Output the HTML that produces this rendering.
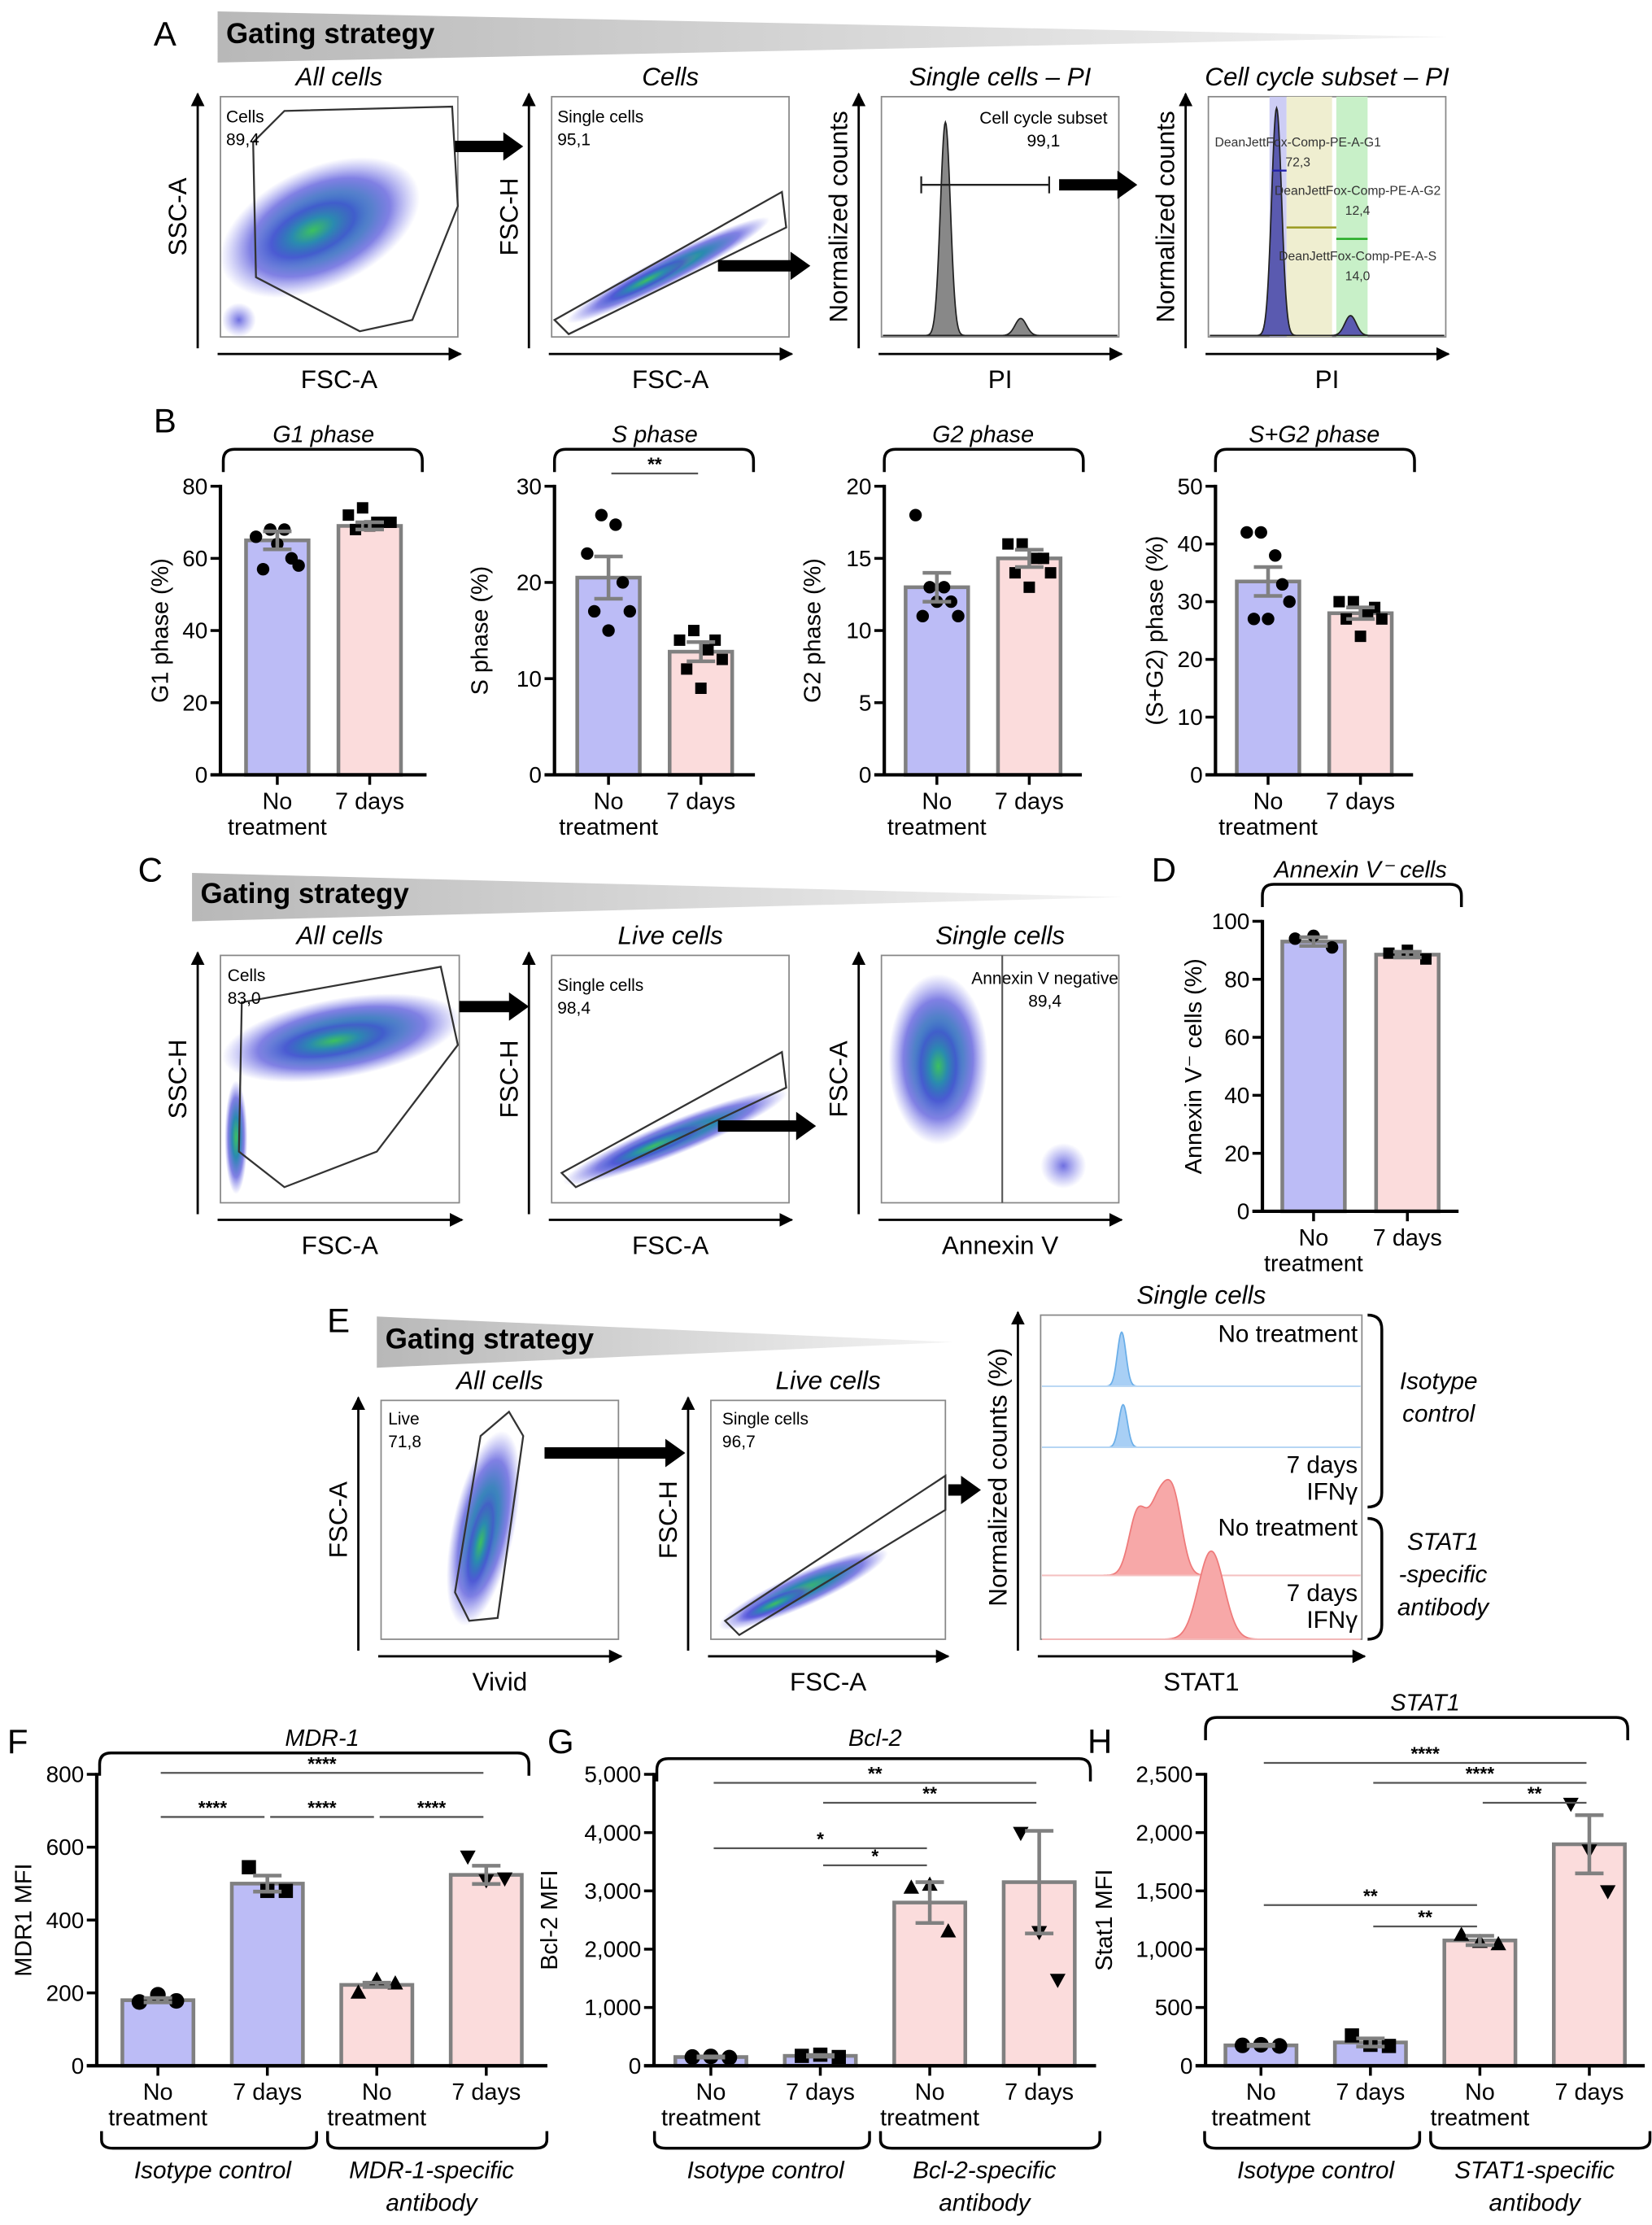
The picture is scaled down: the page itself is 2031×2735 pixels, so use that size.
<!DOCTYPE html>
<html><head><meta charset="utf-8"><style>
html,body{margin:0;padding:0;background:#fff}
svg{display:block;font-family:"Liberation Sans",sans-serif}
</style></head><body>
<svg id="fig" width="2031" height="2735" viewBox="0 0 1162 1565" xmlns="http://www.w3.org/2000/svg">
<defs>
<linearGradient id="ban" x1="0" x2="1" y1="0" y2="0"><stop offset="0" stop-color="#b8b8b8"/><stop offset="1" stop-color="#f4f4f4"/></linearGradient>
<radialGradient id="cloud"><stop offset="0" stop-color="#3cc060"/><stop offset="0.35" stop-color="#2a8ab0"/><stop offset="0.7" stop-color="#4a4ad8" stop-opacity="0.7"/><stop offset="1" stop-color="#6a6ae8" stop-opacity="0"/></radialGradient>
<radialGradient id="cloudB"><stop offset="0" stop-color="#4a4ad8" stop-opacity="0.8"/><stop offset="1" stop-color="#6a6ae8" stop-opacity="0"/></radialGradient>
<marker id="ah" viewBox="0 0 10 10" refX="9" refY="5" markerWidth="6" markerHeight="6" orient="auto"><path d="M0,0L10,5L0,10z" fill="#000"/></marker>
</defs>
</svg>
<script>
const NS='http://www.w3.org/2000/svg';
const svg=document.getElementById('fig');
function mk(tag,a,p){const e=document.createElementNS(NS,tag);for(const k in a)e.setAttribute(k,a[k]);(p||svg).appendChild(e);return e;}
function txt(s,x,y,a,p){const t=mk('text',Object.assign({x:x,y:y},a||{}),p);t.textContent=s;return t;}

/* ---------- DATA ---------- */
const cats2=['No treatment','7 days'];
const cats4=['No treatment','7 days','No treatment','7 days'];
const g1Means=[65,69], g1Sem=[2.5,1], g1Pts=[[66,68,68,58,57,64,60],[72,74,70,70,68,69,70]];
const sMeans=[20.5,12.8], sSem=[2.2,1], sPts=[[23,27,26,17,17,15,20],[14,15,13,12,11,9,14]];
const g2Means=[13,15], g2Sem=[1,0.6], g2Pts=[[18,13,13,11,11,12,12],[16,16,15,14,14,13,15]];
const sg2Means=[33.5,28], sg2Sem=[2.5,1], sg2Pts=[[42,42,38,30,27,27,33],[30,30,28,27,27,24,29]];
const annMeans=[93,88.5], annSem=[1.5,1], annPts=[[94,95,91],[89,90,87]];
const mdrMeans=[180,500,222,524], mdrSem=[6,22,6,25], mdrPts=[[175,195,178],[545,480,480],[200,235,225],[575,510,515]];
const bclMeans=[150,170,2800,3150], bclSem=[10,15,350,880], bclPts=[[150,160,140],[170,190,150],[3050,3100,2300],[4000,2300,1480]];
const statMeans=[175,200,1075,1900], statSem=[6,35,40,250], statPts=[[175,180,170],[260,180,170],[1120,1060,1040],[2250,1850,1500]];
const ticksB1=[0,20,40,60,80], ticksB2=[0,10,20,30], ticksB3=[0,5,10,15,20], ticksB4=[0,10,20,30,40,50], ticksD=[0,20,40,60,80,100];
const ticksF=[0,200,400,600,800], ticksG=[0,1000,2000,3000,4000,5000], ticksH=[0,500,1000,1500,2000,2500];
const tickLabG=['0','1,000','2,000','3,000','4,000','5,000'], tickLabH=['0','500','1,000','1,500','2,000','2,500'];
const sigS=[[0,1,'**']];
const sigF=[[0,3,'****'],[0,1,'****'],[1,2,'****'],[2,3,'****']];
const sigG=[[0,3,'**'],[1,3,'**'],[0,2,'*'],[1,2,'*']];
const sigH=[[0,3,'****'],[1,3,'****'],[2,3,'**'],[0,2,'**'],[1,2,'**']];

const BLUE='#bcbcf6', PINK='#fbdcdc';

function marker(shape,x,y,g,s){
  let m;
  if(shape==='c') m=mk('circle',{cx:x,cy:y,r:s*0.55,fill:'#000'},g);
  else if(shape==='s') m=mk('rect',{x:x-s*0.5,y:y-s*0.5,width:s,height:s,fill:'#000'},g);
  else if(shape==='u') m=mk('path',{d:`M${x},${y-s*0.6}L${x+s*0.55},${y+s*0.4}L${x-s*0.55},${y+s*0.4}Z`,fill:'#000'},g);
  else m=mk('path',{d:`M${x},${y+s*0.6}L${x+s*0.55},${y-s*0.4}L${x-s*0.55},${y-s*0.4}Z`,fill:'#000'},g);
  
  
}

function barChart(c){
  const g=mk('g',{});
  
  
  const max=c.ticks[c.ticks.length-1];
  const ys=v=>c.yBot-(v/max)*(c.yBot-c.yTop);
  const n=c.means.length;
  const cx=i=>c.ax+c.pad+c.step*i;
  for(let i=0;i<n;i++){
    const b=mk('rect',{x:cx(i)-c.bw/2,y:ys(c.means[i]),width:c.bw,height:c.yBot-ys(c.means[i]),fill:c.colors[i],stroke:'#808080','stroke-width':2.6},g);
    
    
  }
  for(let i=0;i<n;i++){
    const pts=c.pts[i];
    for(let j=0;j<pts.length;j++){
      const off=pts.length===3?[-13,0,13][j]:[-15,-5,5,15,-10,0,10][j];
      marker(c.shapes[i],cx(i)+off,ys(pts[j]),g,c.ms);
    }
  }
  for(let i=0;i<n;i++){
    const x=cx(i),y1=ys(c.means[i]+c.sem[i]),y2=ys(Math.max(0,c.means[i]-c.sem[i]));
    const e=mk('path',{d:`M${x},${y1}L${x},${y2}M${x-10},${y1}L${x+10},${y1}M${x-10},${y2}L${x+10},${y2}`,stroke:'#808080','stroke-width':2.6,fill:'none'},g);
    
    
  }
  mk('line',{x1:c.ax,y1:c.yTop-1,x2:c.ax,y2:c.yBot,stroke:'#000','stroke-width':2.4},g);
  const xe=cx(n-1)+c.pad;
  mk('line',{x1:c.ax-7,y1:c.yBot,x2:xe,y2:c.yBot,stroke:'#000','stroke-width':2.4},g);
  c.ticks.forEach((t,k)=>{
    mk('line',{x1:c.ax-7,y1:ys(t),x2:c.ax,y2:ys(t),stroke:'#000','stroke-width':2},g);
    const lb=txt(c.tickLab?c.tickLab[k]:String(t),c.ax-9,ys(t)+5.5,{'text-anchor':'end','font-size':16},g);
    
    
  });
  for(let i=0;i<n;i++){
    mk('line',{x1:cx(i),y1:c.yBot,x2:cx(i),y2:c.yBot+7,stroke:'#000','stroke-width':2},g);
    const lab=c.cats[i];
    if(lab==='No treatment'){
      txt('No',cx(i),c.yBot+24,{'text-anchor':'middle','font-size':16.5},g);
      txt('treatment',cx(i),c.yBot+42,{'text-anchor':'middle','font-size':16.5},g);
    } else txt(lab,cx(i),c.yBot+24,{'text-anchor':'middle','font-size':16.5},g);
  }
  const yl=txt(c.ylabel,0,0,{'text-anchor':'middle','font-size':16.5,transform:`translate(${c.ylx},${(c.yTop+c.yBot)/2}) rotate(-90)`},g);
  
  
  const tx=c.titleX||(c.ax+xe)/2;
  const tt=txt(c.title,tx,c.titleY,{'text-anchor':'middle','font-size':16.5,'font-style':'italic'},g);
  
  
  const bx1=c.brX1||c.ax+2, bx2=c.brX2||xe+12, by=c.brY;
  mk('path',{d:`M${bx1},${by+16}L${bx1},${by+8}Q${bx1},${by} ${bx1+8},${by}L${bx2-8},${by}Q${bx2},${by} ${bx2},${by+8}L${bx2},${by+16}`,stroke:'#000','stroke-width':2,fill:'none'},g);
  (c.sig||[]).forEach((s,k)=>{
    const y=c.sigY[k];
    const l=mk('line',{x1:cx(s[0])+2,y1:y,x2:cx(s[1])-2,y2:y,stroke:'#555','stroke-width':1.3},g);
    
    
    txt(s[2],(cx(s[0])+cx(s[1]))/2,y-2,{'text-anchor':'middle','font-size':13,'font-weight':'bold'},g);
  });
  if(c.groups){
    c.groups.forEach((gr,k)=>{
      const x1=cx(gr[0])-c.step*0.45-(k===0?5:0), x2=cx(gr[1])+c.step*0.45+(k===1?8:0), y=c.yBot+58;
      mk('path',{d:`M${x1},${y-12}L${x1},${y-6}Q${x1},${y} ${x1+8},${y}L${x2-8},${y}Q${x2},${y} ${x2},${y-6}L${x2},${y-12}`,stroke:'#000','stroke-width':2,fill:'none'},g);
      const mid=(cx(gr[0])+cx(gr[1]))/2;
      gr[2].forEach((line,li)=>txt(line,mid,y+21+li*23,{'text-anchor':'middle','font-size':17,'font-style':'italic'},g));
    });
  }
}

function letter(s,x,y){const t=txt(s,x,y,{'font-size':24});}
letter('A',108,32);letter('B',108,304);letter('C',97,620);letter('D',810,620);letter('E',230,937);letter('F',5,1233);letter('G',385,1233);letter('H',765,1233);
function banner(x1,x2,y1,y2){
  const p=mk('path',{d:`M${x1},${y1}L${x2},${(y1+y2)/2}L${x1},${y2}Z`,fill:'url(#ban)'});
  
  
  txt('Gating strategy',x1+6,y1+(y2-y1)*0.62,{'font-size':20,'font-weight':'bold'});
}
banner(153,1020,8,44);banner(135,790,614,648);banner(265,670,926,962);

function flowPlot(o){
  const g=mk('g',{});
  
  
  mk('rect',{x:o.x,y:o.y,width:o.w,height:o.h,fill:'#fff',stroke:'#888','stroke-width':1},g);
  mk('line',{x1:o.x-16,y1:o.y+o.h+8,x2:o.x-16,y2:o.y-2,stroke:'#000','stroke-width':1.6,'marker-end':'url(#ah)'},g);
  mk('line',{x1:o.x-2,y1:o.y+o.h+12,x2:o.x+o.w+2,y2:o.y+o.h+12,stroke:'#000','stroke-width':1.6,'marker-end':'url(#ah)'},g);
  txt(o.title,o.x+o.w/2,o.y-8,{'text-anchor':'middle','font-size':18,'font-style':'italic'},g);
  txt(o.xl,o.x+o.w/2,o.y+o.h+36,{'text-anchor':'middle','font-size':18},g);
  txt(o.yl,0,0,{'text-anchor':'middle','font-size':18,transform:`translate(${o.x-24},${o.y+o.h/2}) rotate(-90)`},g);
  (o.clouds||[]).forEach(c=>mk('ellipse',{cx:c[0],cy:c[1],rx:c[2],ry:c[3],fill:c[5]||'url(#cloud)',transform:`rotate(${c[4]} ${c[0]} ${c[1]})`},g));
  if(o.gate)mk('polygon',{points:o.gate,fill:'none',stroke:'#333','stroke-width':1.3},g);
  if(o.gl){o.gl.forEach((s,i)=>txt(s,o.glx,o.gly+i*16,{'font-size':12,'text-anchor':o.gla||'start'},g));}
  return g;
}
flowPlot({name:'plot-a-all-cells',x:155,y:68,w:167,h:169,title:'All cells',xl:'FSC-A',yl:'SSC-A',
  clouds:[[225,160,75,42,-25],[220,162,45,22,-25],[168,225,12,12,0,'url(#cloudB)']],
  gate:'178,100 200,78 318,75 322,145 290,225 253,233 180,195',gl:['Cells','89,4'],glx:159,gly:86});
flowPlot({name:'plot-a-cells',x:388,y:68,w:167,h:169,title:'Cells',xl:'FSC-A',yl:'FSC-H',
  clouds:[[470,190,80,10,-27],[455,197,40,6,-27]],
  gate:'390,225 550,135 553,160 400,235',gl:['Single cells','95,1'],glx:392,gly:86});
flowPlot({name:'plot-a-single-cells-pi',x:620,y:68,w:167,h:169,title:'Single cells – PI',xl:'PI',yl:'Normalized counts',
  gl:['Cell cycle subset','99,1'],glx:734,gly:87,gla:'middle'});
flowPlot({name:'plot-a-cell-cycle',x:850,y:68,w:167,h:169,title:'Cell cycle subset – PI',xl:'PI',yl:'Normalized counts'});
flowPlot({name:'plot-c-all-cells',x:155,y:672,w:168,h:174,title:'All cells',xl:'FSC-A',yl:'SSC-H',
  clouds:[[240,730,85,28,-10],[235,732,50,14,-10],[166,800,8,40,0]],
  gate:'170,705 310,680 322,735 265,810 200,835 168,810',gl:['Cells','83,0'],glx:160,gly:690});
flowPlot({name:'plot-c-live-cells',x:388,y:672,w:167,h:174,title:'Live cells',xl:'FSC-A',yl:'FSC-H',
  clouds:[[475,800,85,12,-22],[460,806,45,7,-22]],
  gate:'395,825 550,740 553,765 405,835',gl:['Single cells','98,4'],glx:392,gly:697});
flowPlot({name:'plot-c-single-cells',x:620,y:672,w:167,h:174,title:'Single cells',xl:'Annexin V',yl:'FSC-A',
  clouds:[[660,745,35,60,0],[660,750,18,35,0],[748,820,16,16,0,'url(#cloudB)']],gl:['Annexin V negative','89,4'],glx:735,gly:692,gla:'middle'});
mk('line',{x1:705,y1:672,x2:705,y2:846,stroke:'#555','stroke-width':1.2});
flowPlot({name:'plot-e-all-cells',x:268,y:985,w:167,h:168,title:'All cells',xl:'Vivid',yl:'FSC-A',
  clouds:[[340,1075,22,70,12],[338,1085,10,40,12]],
  gate:'320,1120 338,1010 358,993 368,1010 350,1138 330,1140',gl:['Live','71,8'],glx:273,gly:1002});
flowPlot({name:'plot-e-live-cells',x:500,y:985,w:165,h:168,title:'Live cells',xl:'FSC-A',yl:'FSC-H',
  clouds:[[565,1118,65,12,-24],[545,1128,30,6,-24]],
  gate:'510,1140 665,1038 665,1062 520,1150',gl:['Single cells','96,7'],glx:508,gly:1002});
flowPlot({name:'plot-e-single-cells',x:732,y:925,w:226,h:228,title:'Single cells',xl:'STAT1',yl:'Normalized counts (%)'});

const histA3Pos=[665,718], histA3H=[150,12], histA3W=[3.5,4];
const histA4Pos=[898,950], histA4H=[160,14], histA4W=[3.5,4];
const histEPos=[789,790,812,852], histEH=[38,30,52,62], histEW=[3,3,10,9];
function peak(base,centers,hs,ws,fill,stroke,x1,x2,name){
  let d=`M${x1},${base}`;
  for(let x=x1;x<=x2;x+=0.5){let y=0;for(let i=0;i<centers.length;i++)y+=hs[i]*Math.exp(-((x-centers[i])**2)/(2*ws[i]*ws[i]));d+=`L${x},${base-y}`;}
  d+=`L${x2},${base}Z`;
  const p=mk('path',{d:d,fill:fill,stroke:stroke,'stroke-width':1});
  
  
}
peak(236,histA3Pos,histA3H,histA3W,'#888','#222',621,786,'pi-histogram');
mk('path',{d:'M648,124L648,136M648,130L738,130M738,124L738,136',stroke:'#222','stroke-width':1.3,fill:'none'});
mk('rect',{x:893,y:68,width:12,height:169,fill:'#c8c8f4',opacity:0.9});
mk('rect',{x:905,y:68,width:32,height:169,fill:'#efeed0'});
mk('rect',{x:940,y:68,width:22,height:169,fill:'#c8f0c8'});
peak(236,histA4Pos,histA4H,histA4W,'#5a5ab0','#222',851,1016,'cell-cycle-histogram');
[['DeanJettFox-Comp-PE-A-G1','72,3',103],['DeanJettFox-Comp-PE-A-G2','12,4',137],['DeanJettFox-Comp-PE-A-S','14,0',183]].forEach(a=>{
  txt(a[0],a[2]<110?913:955,a[2],{'font-size':9,'text-anchor':'middle',fill:'#333'});
  txt(a[1],a[2]<110?913:955,a[2]+14,{'font-size':9,'text-anchor':'middle',fill:'#333'});
});
mk('line',{x1:905,y1:160,x2:940,y2:160,stroke:'#9a9a20','stroke-width':1.4});
mk('line',{x1:940,y1:168,x2:962,y2:168,stroke:'#2a2','stroke-width':1.4});
mk('line',{x1:895,y1:120,x2:905,y2:120,stroke:'#22a','stroke-width':1.4});
const eBase=[975,1018,1108,1153];
for(let i=0;i<4;i++){
  const col=i<2?['#a8cff5','#6aaee8']:['#f7a8a8','#ee7a7a'];
  if(i===2)peak(eBase[i],[800,815,826],[42,50,46],[6,7,6],col[0],col[1],733,957,'stat1-histogram');
  else peak(eBase[i],[histEPos[i]],[histEH[i]],[histEW[i]],col[0],col[1],733,957,'stat1-histogram');
  mk('line',{x1:733,y1:eBase[i],x2:957,y2:eBase[i],stroke:i<2?'#bcd8f4':'#f4c0c0','stroke-width':1});
}
txt('No treatment',955,944,{'font-size':17,'text-anchor':'end'});
txt('7 days',955,1036,{'font-size':17,'text-anchor':'end'});txt('IFNγ',955,1055,{'font-size':17,'text-anchor':'end'});
txt('No treatment',955,1080,{'font-size':17,'text-anchor':'end'});
txt('7 days',955,1126,{'font-size':17,'text-anchor':'end'});txt('IFNγ',955,1145,{'font-size':17,'text-anchor':'end'});
mk('path',{d:'M962,925Q972,925 972,935L972,1050Q972,1060 962,1060M962,1068Q972,1068 972,1078L972,1143Q972,1153 962,1153',stroke:'#000','stroke-width':2,fill:'none'});
[['Isotype',977],['control',1000]].forEach(a=>txt(a[0],1012,a[1],{'font-size':17,'font-style':'italic','text-anchor':'middle'}));
[['STAT1',1090],['-specific',1113],['antibody',1136]].forEach(a=>txt(a[0],1015,a[1],{'font-size':17,'font-style':'italic','text-anchor':'middle'}));

function bigArrow(x1,x2,y){const p=mk('path',{d:`M${x1},${y-4}L${x2-14},${y-4}L${x2-14},${y-10}L${x2},${y}L${x2-14},${y+10}L${x2-14},${y+4}L${x1},${y+4}Z`,fill:'#000'});}
bigArrow(320,368,103);bigArrow(505,570,187);bigArrow(745,800,130);
bigArrow(323,372,708);bigArrow(505,574,792);bigArrow(383,482,1022);bigArrow(667,690,1048);

const two=[BLUE,PINK], four=[BLUE,BLUE,PINK,PINK];
barChart({name:'chart-g1-phase',ax:155,yTop:342,yBot:545,pad:40,step:65,bw:44,ms:8,ticks:ticksB1,means:g1Means,sem:g1Sem,pts:g1Pts,colors:two,shapes:['c','s'],cats:cats2,ylabel:'G1 phase (%)',ylx:118,title:'G1 phase',titleY:311,brY:316,brX1:157,brX2:297});
barChart({name:'chart-s-phase',ax:390,yTop:342,yBot:545,pad:38,step:65,bw:44,ms:8,ticks:ticksB2,means:sMeans,sem:sSem,pts:sPts,colors:two,shapes:['c','s'],cats:cats2,ylabel:'S phase (%)',ylx:343,title:'S phase',titleY:311,brY:316,brX1:390,brX2:530,sig:sigS,sigY:[333]});
barChart({name:'chart-g2-phase',ax:622,yTop:342,yBot:545,pad:37,step:65,bw:44,ms:8,ticks:ticksB3,means:g2Means,sem:g2Sem,pts:g2Pts,colors:two,shapes:['c','s'],cats:cats2,ylabel:'G2 phase (%)',ylx:577,title:'G2 phase',titleY:311,brY:316,brX1:622,brX2:762});
barChart({name:'chart-s-g2-phase',ax:855,yTop:342,yBot:545,pad:37,step:65,bw:44,ms:8,ticks:ticksB4,means:sg2Means,sem:sg2Sem,pts:sg2Pts,colors:two,shapes:['c','s'],cats:cats2,ylabel:'(S+G2) phase (%)',ylx:818,title:'S+G2 phase',titleY:311,brY:316,brX1:855,brX2:995});
barChart({name:'chart-annexin-v',ax:888,yTop:648,yBot:852,pad:36,step:66,bw:44,ms:8,ticks:ticksD,means:annMeans,sem:annSem,pts:annPts,colors:two,shapes:['c','s'],cats:cats2,ylabel:'Annexin V⁻ cells (%)',ylx:845,title:'Annexin V⁻ cells',titleY:617,brY:622,brX1:888,brX2:1028});
const grpF=[[0,1,['Isotype control']],[2,3,['MDR-1-specific','antibody']]];
barChart({name:'chart-mdr1',ax:68,yTop:1248,yBot:1453,pad:43,step:77,bw:50,ms:10,ticks:ticksF,means:mdrMeans,sem:mdrSem,pts:mdrPts,colors:four,shapes:['c','s','u','d'],cats:cats4,ylabel:'MDR1 MFI',ylx:22,title:'MDR-1',titleY:1228,brY:1233,brX1:70,brX2:372,sig:sigF,sigY:[1247,1278,1278,1278],groups:grpF});
barChart({name:'chart-bcl2',ax:460,yTop:1248,yBot:1453,pad:40,step:77,bw:50,ms:10,ticks:ticksG,tickLab:tickLabG,means:bclMeans,sem:bclSem,pts:bclPts,colors:four,shapes:['c','s','u','d'],cats:cats4,ylabel:'Bcl-2 MFI',ylx:392,title:'Bcl-2',titleY:1228,brY:1237,brX1:462,brX2:767,sig:sigG,sigY:[1254,1268,1300,1312],groups:[[0,1,['Isotype control']],[2,3,['Bcl-2-specific','antibody']]]});
barChart({name:'chart-stat1',ax:848,yTop:1248,yBot:1453,pad:39,step:77,bw:50,ms:10,ticks:ticksH,tickLab:tickLabH,means:statMeans,sem:statSem,pts:statPts,colors:four,shapes:['c','s','u','d'],cats:cats4,ylabel:'Stat1 MFI',ylx:782,title:'STAT1',titleY:1203,brY:1208,brX1:848,brX2:1145,sig:sigH,sigY:[1240,1254,1268,1340,1355],groups:[[0,1,['Isotype control']],[2,3,['STAT1-specific','antibody']]]});
</script>
</body></html>
